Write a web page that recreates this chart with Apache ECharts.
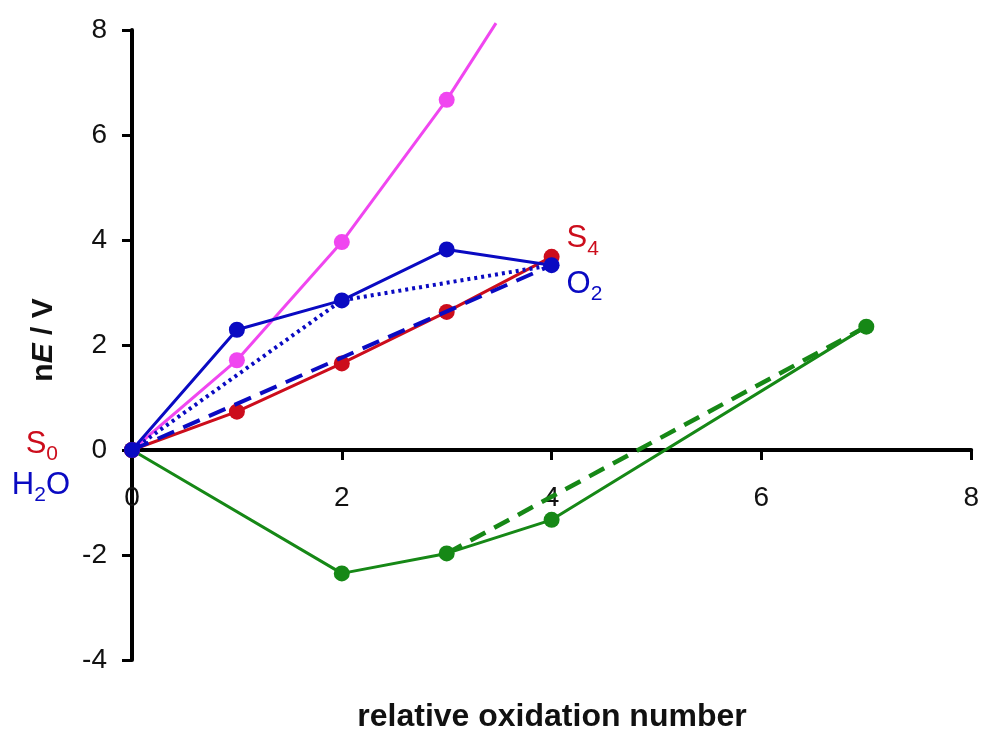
<!DOCTYPE html>
<html>
<head>
<meta charset="utf-8">
<script src="https://cdn.jsdelivr.net/npm/echarts@6/dist/echarts.min.js"></script>
<style>html,body{margin:0;padding:0;background:#fff}#c{width:982px;height:729px}</style>
</head>
<body>
<div id="c"></div>
<script>
// ---- data ----
const xTicks = [0, 2, 4, 6, 8];
const yTicks = [-4, -2, 0, 2, 4, 6, 8];
const magentaX = [0, 1, 2, 3, 3.47];
const magentaY = [0, 1.71, 3.96, 6.67, 8.13];
const redX = [0, 1, 2, 3, 4];
const redY = [0, 0.73, 1.65, 2.63, 3.68];
const blueX = [0, 1, 2, 3, 4];
const blueY = [0, 2.29, 2.85, 3.82, 3.52];
const blueDottedX = [0, 2, 4];
const blueDottedY = [0, 2.85, 3.52];
const blueDashedX = [0, 4];
const blueDashedY = [0, 3.52];
const greenX = [0, 2, 3, 4, 7];
const greenY = [0, -2.35, -1.97, -1.33, 2.35];
const greenDashedX = [3, 7];
const greenDashedY = [-1.97, 2.35];

const RED = '#cc0d1c', BLUE = '#0a0ac2', MAG = '#f046f0', GREEN = '#168816';
const FONT = 'Liberation Sans, Arial, sans-serif';

function pairs(xs, ys) { return xs.map((x, i) => [x, ys[i]]); }

const GRID = {left: 132, right: 10, top: 30, bottom: 69};
const CH = 729;
const yMin = yTicks[0], yMax = yTicks[yTicks.length - 1];
const gridH = CH - GRID.top - GRID.bottom;
const xAxisOffset = -gridH * (0 - yMin) / (yMax - yMin);

const chart = echarts.init(document.getElementById('c'), null, {renderer: 'canvas'});

const richSub = (color) => ({
  s: {fontSize: 31, lineHeight: 31, color: color, fontFamily: FONT, verticalAlign: 'top'},
  u: {fontSize: 21, lineHeight: 21, color: color, fontFamily: FONT, verticalAlign: 'top', padding: [15, 0, 0, 0]}
});
function subLabel(main, sub, color) {
  return {formatter: '{s|' + main + '}{u|' + sub + '}', rich: richSub(color)};
}

const magData = pairs(magentaX, magentaY).map((p, i, a) => i === a.length - 1 ? {value: p, symbol: 'none'} : p);

const redData = pairs(redX, redY).map((p, i) => {
  if (i === 0) return {value: p, label: Object.assign({show: true, position: 'left', distance: 66, offset: [0, -6]}, subLabel('S', '0', RED))};
  if (i === 4) return {value: p, label: Object.assign({show: true, position: 'right', distance: 7, offset: [0, -18]}, subLabel('S', '4', RED))};
  return p;
});

const blueData = pairs(blueX, blueY).map((p, i) => {
  if (i === 0) return {value: p, label: {
    show: true, position: 'left', distance: 54, offset: [0, 35],
    formatter: '{s|H}{u|2}{s|O}', rich: richSub(BLUE)}};
  if (i === 4) return {value: p, label: Object.assign({show: true, position: 'right', distance: 7, offset: [0, 19]}, subLabel('O', '2', BLUE))};
  return p;
});

const SYM = 16;
const option = {
  animation: false,
  backgroundColor: '#fff',
  grid: Object.assign({containLabel: false}, GRID),
  xAxis: {
    type: 'value', min: xTicks[0], max: xTicks[xTicks.length - 1], interval: 2,
    offset: xAxisOffset,
    axisLine: {onZero: false, lineStyle: {color: '#000', width: 4}},
    axisTick: {show: true, length: 10, lineStyle: {color: '#000', width: 3}},
    axisLabel: {margin: 34, fontSize: 28, color: '#111', fontFamily: FONT},
    splitLine: {show: false}
  },
  yAxis: {
    type: 'value', min: yMin, max: yMax, interval: 2,
    axisLine: {onZero: false, lineStyle: {color: '#000', width: 4}},
    axisTick: {show: true, length: 10, lineStyle: {color: '#000', width: 3}},
    axisLabel: {margin: 25, fontSize: 28, color: '#111', fontFamily: FONT},
    splitLine: {show: false}
  },
  graphic: [
    {type: 'text', x: 552, y: 717, style: {text: 'relative oxidation number', font: 'bold 32px ' + FONT, fill: '#111', textAlign: 'center', textVerticalAlign: 'middle'}},
    {type: 'text', x: 44, y: 340, rotation: Math.PI / 2, style: {
      text: '{b|n}{i|E}{b| / V}', textAlign: 'center', textVerticalAlign: 'middle',
      rich: {b: {fontSize: 30, fontWeight: 'bold', fontFamily: FONT, fill: '#111'}, i: {fontSize: 30, fontWeight: 'bold', fontStyle: 'italic', fontFamily: FONT, fill: '#111'}}
    }}
  ],
  series: [
    {type: 'line', name: 'green', data: pairs(greenX, greenY), symbol: 'circle', symbolSize: SYM, itemStyle: {color: GREEN}, lineStyle: {color: GREEN, width: 3}, z: 2},
    {type: 'line', name: 'greenDashed', data: pairs(greenDashedX, greenDashedY), symbol: 'none', lineStyle: {color: GREEN, width: 4.5, type: [17, 10]}, z: 2},
    {type: 'line', name: 'magenta', data: magData, symbol: 'circle', symbolSize: SYM, clip: false, itemStyle: {color: MAG}, lineStyle: {color: MAG, width: 3}, z: 3},
    {type: 'line', name: 'red', data: redData, symbol: 'circle', symbolSize: SYM, itemStyle: {color: RED}, lineStyle: {color: RED, width: 3}, z: 4},
    {type: 'line', name: 'blueDashed', data: pairs(blueDashedX, blueDashedY), symbol: 'none', lineStyle: {color: BLUE, width: 4, type: [18, 10]}, z: 5},
    {type: 'line', name: 'blueDotted', data: pairs(blueDottedX, blueDottedY), symbol: 'none', lineStyle: {color: BLUE, width: 4, type: [3, 4]}, z: 5},
    {type: 'line', name: 'blue', data: blueData, symbol: 'circle', symbolSize: SYM, itemStyle: {color: BLUE}, lineStyle: {color: BLUE, width: 3}, z: 6}
  ]
};
chart.setOption(option);
</script>
</body>
</html>
